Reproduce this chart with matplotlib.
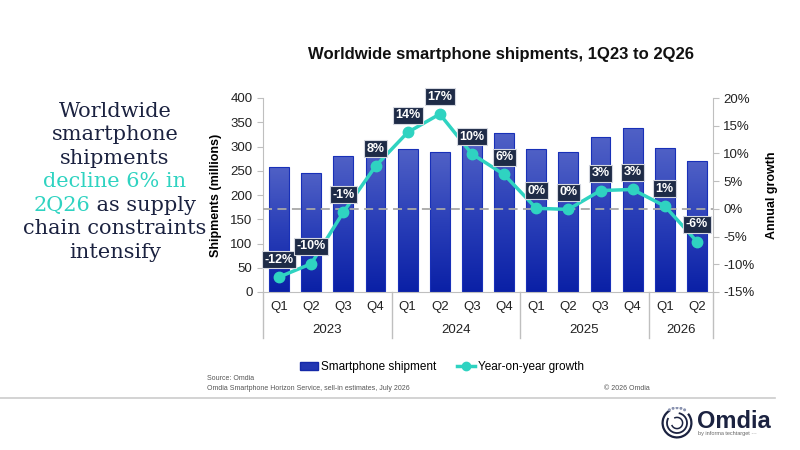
import numpy as np
import matplotlib.pyplot as plt
from matplotlib.patches import Rectangle, Arc, Circle
from matplotlib.lines import Line2D
from matplotlib.colors import LinearSegmentedColormap

# data
quarters = ['Q1', 'Q2', 'Q3', 'Q4', 'Q1', 'Q2', 'Q3', 'Q4', 'Q1', 'Q2', 'Q3', 'Q4', 'Q1', 'Q2']
years = ['2023', '2024', '2025', '2026']
year_sizes = [4, 4, 4, 2]
shipments = [258, 246, 281, 294, 295, 288, 308, 328, 295, 288, 319, 338, 297, 271]
growth = [-12.3, -9.9, -0.6, 7.7, 13.8, 17.1, 9.9, 6.2, 0.1, -0.1, 3.3, 3.5, 0.5, -5.9]
growth_labels = ['-12%', '-10%', '-1%', '8%', '14%', '17%', '10%', '6%',
                 '0%', '0%', '3%', '3%', '1%', '-6%']

navy = '#1b2240'
teal = '#2fd3c1'
grey = '#a8a8a8'

plt.rcParams['font.family'] = ['Liberation Sans', 'DejaVu Sans']

fig = plt.figure(figsize=(8, 4.5), dpi=100)
W, H = 800, 450


def px(x0, y0, w, h):
    # pixel box (top-left origin) -> figure fraction rect
    return [x0 / W, 1 - (y0 + h) / H, w / W, h / H]


ax = fig.add_axes(px(263, 98, 450, 194))
x = np.arange(len(shipments))

# bars with vertical gradient
cmap = LinearSegmentedColormap.from_list('bar', ['#0a20a6', '#2a3fb8', '#5061c6'])
grad = np.linspace(0, 1, 256).reshape(-1, 1)
bars = ax.bar(x, shipments, width=0.62, facecolor='none', edgecolor='#1830b8',
              linewidth=0.8, zorder=2)
for b in bars:
    im = ax.imshow(grad, cmap=cmap, origin='lower', aspect='auto', zorder=1.9,
                   extent=[b.get_x(), b.get_x() + b.get_width(), 0, b.get_height()])
    im.set_clip_path(b)

ax.set_xlim(-0.5, len(x) - 0.5)
ax.set_ylim(0, 400)
ax.set_yticks(range(0, 401, 50))
ax.set_xticks([])
for s in ['top', 'right']:
    ax.spines[s].set_visible(False)
ax.spines['left'].set_color('#bfbfbf')
ax.spines['bottom'].set_color('#bfbfbf')
ax.tick_params(axis='y', colors='#bfbfbf', labelcolor='#222222', labelsize=9.5, length=4)
ax.set_ylabel('Shipments (millions)', fontsize=9, fontweight='bold', labelpad=6)

# category labels below the axis
tr = ax.get_xaxis_transform()
for i, q in enumerate(quarters):
    ax.text(i, -0.077, q, transform=tr, ha='center', va='center', fontsize=9.5, color='#222222')
start = 0
bounds = [-0.5]
for yr, n in zip(years, year_sizes):
    ax.text(start + (n - 1) / 2, -0.196, yr, transform=tr, ha='center', va='center',
            fontsize=9.5, color='#222222')
    start += n
    bounds.append(start - 0.5)
for bx in bounds:
    ax.plot([bx, bx], [0, -0.237], transform=tr, color='#bfbfbf', lw=1, clip_on=False)

# growth line on right axis
ax2 = ax.twinx()
ax2.set_ylim(-15, 20)
ax2.set_yticks(range(-15, 21, 5))
ax2.set_yticklabels([f'{v}%' for v in range(-15, 21, 5)])
for s in ['top', 'left', 'bottom']:
    ax2.spines[s].set_visible(False)
ax2.spines['right'].set_color('#bfbfbf')
ax2.tick_params(axis='y', colors='#bfbfbf', labelcolor='#222222', labelsize=9.5, length=4)
ax2.set_ylabel('Annual growth', fontsize=9, fontweight='bold', labelpad=8)
ax2.axhline(0, color=grey, ls=(0, (5, 3)), lw=1.3, zorder=1)
ax2.plot(x, growth, color=teal, lw=2.5, marker='o', ms=7.5, zorder=3)
for i, (g, lbl) in enumerate(zip(growth, growth_labels)):
    ax2.annotate(lbl, (i, g), xytext=(0, 12.5), textcoords='offset points',
                 ha='center', va='center', color='white', fontsize=9, fontweight='bold',
                 bbox=dict(boxstyle='square,pad=0.2', fc='#1e2b47', ec='#d5d8e0', lw=0.8),
                 zorder=5)

# title
fig.text(501 / W, 1 - 55 / H, 'Worldwide smartphone shipments, 1Q23 to 2Q26',
         ha='center', va='center', fontsize=12, fontweight='bold', color='#111111')

# headline on the left, mixed colours
head_lines = [
    [('Worldwide', navy)],
    [('smartphone', navy)],
    [('shipments', navy)],
    [('decline 6% in', teal)],
    [('2Q26', teal), (' as supply', navy)],
    [('chain constraints', navy)],
    [('intensify', navy)],
]
renderer = fig.canvas.get_renderer()
head_font = dict(fontsize=15, family='DejaVu Serif')
for k, parts in enumerate(head_lines):
    base = 116.7 + k * 23.5
    texts = [fig.text(0, 0, s, color=c, va='baseline', ha='left', **head_font) for s, c in parts]
    widths = [t.get_window_extent(renderer).width for t in texts]
    left = 115 - sum(widths) / 2
    for t, w in zip(texts, widths):
        t.set_position((left / W, 1 - base / H))
        left += w

# legend
handles = [Rectangle((0, 0), 1, 1, fc='#2236b2', ec='#1428a8'),
           Line2D([], [], color=teal, lw=2.5, marker='o', ms=6)]
fig.legend(handles, ['Smartphone shipment', 'Year-on-year growth'], loc='center',
           bbox_to_anchor=(442 / W, 1 - 367 / H), ncol=2, frameon=False, fontsize=8.5,
           handlelength=1.5, handleheight=0.6, columnspacing=1.8, handletextpad=0.25)

# footer
fig.text(207 / W, 1 - 379 / H, 'Source: Omdia', fontsize=5, color='#555555', va='center')
fig.text(207 / W, 1 - 388 / H, 'Omdia Smartphone Horizon Service, sell-in estimates, July 2026',
         fontsize=5, color='#555555', va='center')
fig.text(650 / W, 1 - 388 / H, '\u00a9 2026 Omdia', fontsize=5, color='#555555',
         va='center', ha='right')
fig.add_artist(Line2D([0, 775 / W], [1 - 398 / H] * 2, color='#cccccc', lw=1.2))

# logo
fig.text(697 / W, 1 - 421 / H, 'Omdia', fontsize=17, fontweight='bold', color=navy, va='center')
fig.text(698 / W, 1 - 434 / H, 'by informa techtarget \u00b7\u00b7\u00b7', fontsize=4,
         color='#666666', va='center')
lax = fig.add_axes(px(661, 407, 32, 32))
lax.set_xlim(-1, 1)
lax.set_ylim(-1, 1)
lax.set_aspect('equal')
lax.axis('off')
lax.add_patch(Arc((0, 0), 1.8, 1.8, theta1=120, theta2=400, color=navy, lw=1.6))
lax.add_patch(Arc((0, 0), 1.25, 1.25, theta1=150, theta2=440, color=navy, lw=1.3))
lax.add_patch(Arc((0, 0), 0.7, 0.7, theta1=200, theta2=480, color=navy, lw=1.1))
for a in np.linspace(60, 120, 5):
    r = np.radians(a)
    lax.add_patch(Circle((0.95 * np.cos(r), 0.95 * np.sin(r)), 0.05, color='#8a93b0'))

fig.savefig('out.png', dpi=100)
